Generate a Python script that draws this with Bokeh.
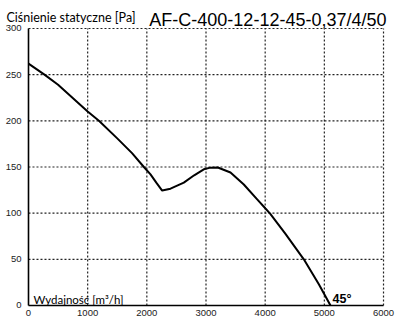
from bokeh.plotting import figure
from bokeh.models import Label, FixedTicker, Range1d
from bokeh.embed import file_html
from bokeh.resources import INLINE

# Curve (flow m3/h, static pressure Pa)
flow = [0, 270, 500, 1000, 1190, 1500, 1750, 1950, 2062, 2160, 2259, 2400, 2625,
        2800, 2963, 3076, 3200, 3414, 3639, 3865, 4005, 4090, 4343, 4653, 4907, 5104]
pressure = [262, 250, 239, 210, 200, 181, 165, 150, 142, 133, 124.5, 126.5, 133,
            141, 147.5, 149.3, 149.5, 144, 131, 115, 105, 99, 77.5, 50, 23, 0]

x_ticks = [0, 1000, 2000, 3000, 4000, 5000, 6000]
y_ticks = [0, 50, 100, 150, 200, 250, 300]

title_text = "AF-C-400-12-12-45-0,37/4/50"
y_label = "Ciśnienie statyczne [Pa]"
x_label = "Wydajność [m³/h]"
angle_label = "45°"

x_min, x_max = x_ticks[0], x_ticks[-1]
y_min, y_max = y_ticks[0], y_ticks[-1]

p = figure(width=400, height=329, output_backend="svg", toolbar_location=None,
           x_range=Range1d(-473, 6287), y_range=Range1d(-26, 330.3),
           min_border_left=0, min_border_right=0, min_border_top=0,
           min_border_bottom=0)
p.outline_line_color = None
p.background_fill_color = "white"
p.border_fill_color = "white"
p.xgrid.visible = False
p.ygrid.visible = False

for ax in (p.xaxis[0], p.yaxis[0]):
    ax.fixed_location = 0
    ax.major_tick_out = 0
    ax.major_tick_in = 0
    ax.minor_tick_out = 0
    ax.minor_tick_in = 0
    ax.axis_line_color = "black"
    ax.axis_line_width = 1.6
    ax.major_label_text_font = "Liberation Sans"
    ax.major_label_text_font_size = "9.5px"
    ax.major_label_text_color = "#222222"

p.xaxis[0].ticker = FixedTicker(ticks=x_ticks)
p.yaxis[0].ticker = FixedTicker(ticks=y_ticks)
p.xaxis[0].bounds = (x_min, x_max)
p.yaxis[0].bounds = (y_min, y_max)
p.xaxis[0].major_label_standoff = 5
p.yaxis[0].major_label_standoff = 7

# dotted grid over the chart area, from the tick lists
gx = x_ticks[1:]
p.segment(x0=gx, y0=[y_min] * len(gx), x1=gx, y1=[y_max] * len(gx),
          line_color="#222222", line_dash="2 2", line_width=1.2)
gy = y_ticks[1:]
p.segment(x0=[x_min] * len(gy), y0=gy, x1=[x_max] * len(gy), y1=gy,
          line_color="#222222", line_dash="2 2", line_width=1.2)

p.line(flow, pressure, line_color="black", line_width=2)

p.add_layout(Label(x=6050, y=309.4, text=title_text, text_align="right",
                   text_baseline="alphabetic", text_font="Liberation Sans",
                   text_font_size="18px", text_color="black"))
p.add_layout(Label(x=-372, y=312.3, text=y_label, text_align="left",
                   text_baseline="alphabetic", text_font="Lato",
                   text_font_size="12.5px", text_color="black"))
p.add_layout(Label(x=85, y=7, text=x_label, text_align="left",
                   text_baseline="alphabetic", text_font="Lato",
                   text_font_size="11.5px", text_color="black"))
p.add_layout(Label(x=5138, y=6.5, text=angle_label, text_align="left",
                   text_baseline="alphabetic", text_font="Liberation Sans",
                   text_font_size="12.5px", text_font_style="bold",
                   text_color="black"))

open("out.html", "w").write(file_html(p, INLINE))
